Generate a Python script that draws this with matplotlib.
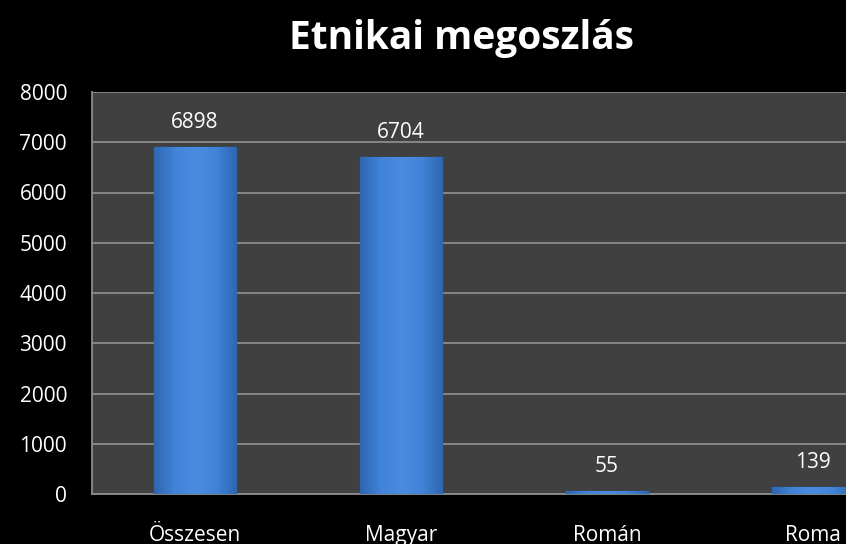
import matplotlib.pyplot as plt
import numpy as np
from matplotlib.colors import LinearSegmentedColormap

categories = ['Összesen', 'Magyar', 'Román', 'Roma']
values = [6898, 6704, 55, 139]
yticks = [0, 1000, 2000, 3000, 4000, 5000, 6000, 7000, 8000]

plt.rcParams['font.family'] = ['Open Sans', 'DejaVu Sans']

fig = plt.figure(figsize=(8.46, 5.44), dpi=100, facecolor='black')
ax = fig.add_axes([92 / 846, 50 / 544, 824 / 846, 402 / 544])
ax.set_facecolor('#404040')

x = np.arange(len(categories))
bar_w = 0.4
bars = ax.bar(x, values, width=bar_w, color='#3b7bd0', edgecolor='#2a5c9e',
              linewidth=1.0, zorder=3)

# horizontal shading inside each bar (darker edges, lighter middle)
cmap = LinearSegmentedColormap.from_list(
    'barshade', ['#2f66b0', '#4083d8', '#4a8ce0', '#4083d8', '#2f66b0'])
grad = np.linspace(0, 1, 256).reshape(1, -1)
for b in bars:
    im = ax.imshow(grad, cmap=cmap, aspect='auto', zorder=4,
                   extent=[b.get_x(), b.get_x() + b.get_width(), 0, b.get_height()])
    im.set_clip_path(b)

# value labels
for xi, v in zip(x, values):
    ax.annotate(str(v), (xi, v), xytext=(0, 10), textcoords='offset points',
                ha='center', va='bottom', color='white', fontsize=15)

ax.set_xlim(-0.5, 3.5)
ax.set_ylim(0, 8000)
ax.set_yticks(yticks)
ax.set_xticks(x)
ax.set_xticklabels(categories)
ax.grid(axis='y', color='#8c8c8c', linewidth=1.3, zorder=0)
ax.tick_params(axis='both', length=0, colors='white', labelsize=15)
ax.tick_params(axis='x', pad=22)
ax.tick_params(axis='y', pad=18)

for side in ['top', 'right']:
    ax.spines[side].set_visible(False)
for side in ['left', 'bottom']:
    ax.spines[side].set_color('#8c8c8c')
    ax.spines[side].set_linewidth(1.3)

fig.text(0.545, 0.93, 'Etnikai megoszlás', ha='center', va='center',
         color='white', fontsize=28, fontweight='bold')

fig.savefig('out.png', dpi=100, facecolor='black')
